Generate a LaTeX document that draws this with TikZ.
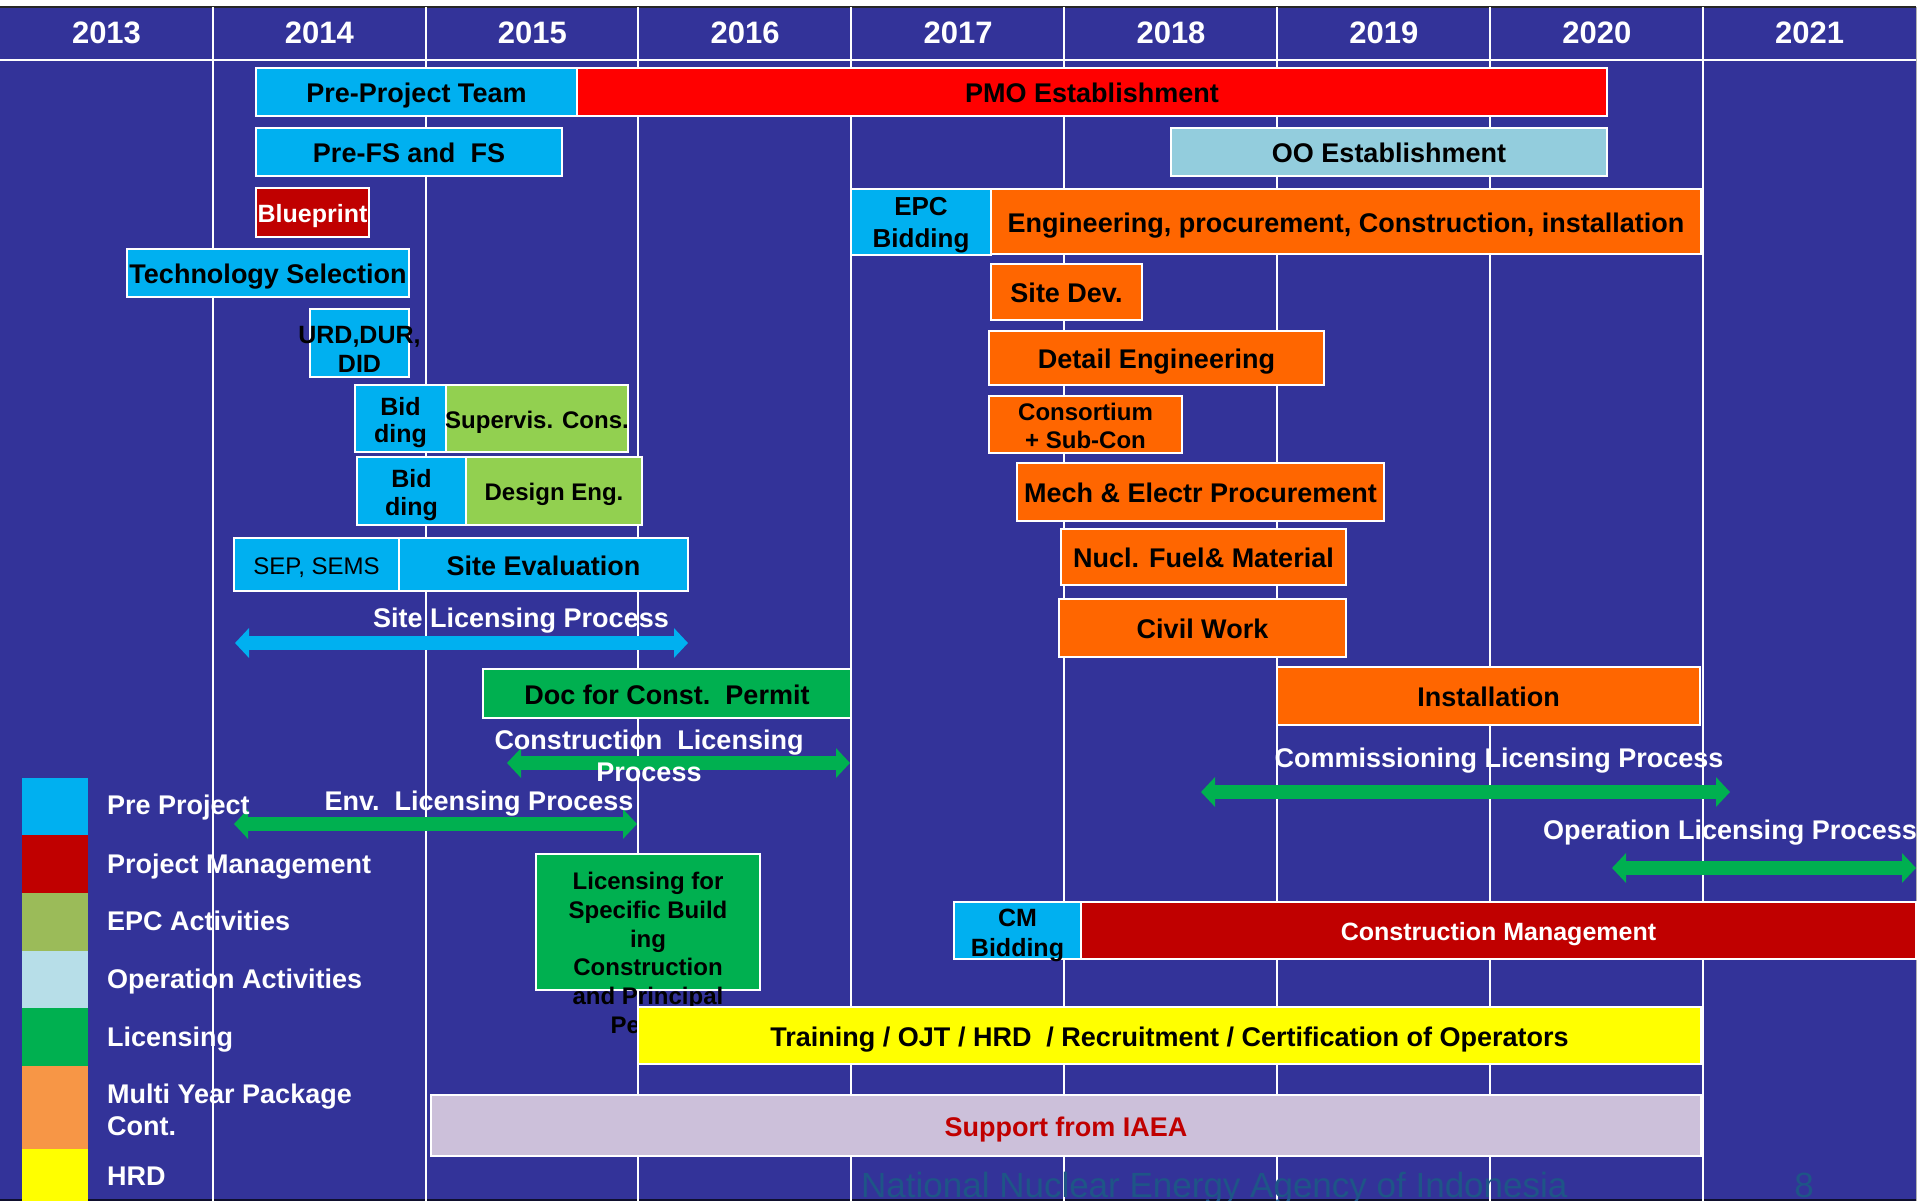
\documentclass[tikz,border=0pt]{standalone}
\usepackage{fontspec}
\setmainfont{Liberation Sans}
\usetikzlibrary{arrows.meta}
\definecolor{bgblue}{RGB}{51,51,153}
\definecolor{pcyan}{RGB}{0,176,240}
\definecolor{pred}{RGB}{255,0,0}
\definecolor{dred}{RGB}{192,0,0}
\definecolor{porange}{RGB}{255,102,0}
\definecolor{lgreen}{RGB}{146,208,80}
\definecolor{pgreen}{RGB}{0,176,80}
\definecolor{oblue}{RGB}{147,205,221}
\definecolor{pyellow}{RGB}{255,255,0}
\definecolor{lav}{RGB}{204,192,218}
\definecolor{epcleg}{RGB}{155,187,89}
\definecolor{opleg}{RGB}{183,222,232}
\definecolor{myleg}{RGB}{247,150,70}
\definecolor{foot}{RGB}{30,85,135}
\newcommand{\fs}[2]{\fontsize{#1}{#2}\selectfont}
% single line, caps centred on the bar
\newcommand{\zt}[1]{\makebox[0pt]{\smash{\raisebox{-0.40em}{#1}}}}
% several lines: #1 = raise of the first baseline
\newcommand{\zs}[2]{\makebox[0pt]{\smash{\raisebox{#1}{\begin{tabular}[t]{@{}c@{}}#2\end{tabular}}}}}
\newcommand{\mybar}[7]{\node[gbar,#6,minimum width={#4pt-#2pt},minimum height={#5pt-#3pt}] (#1) at ({(#2+#4)/2},{(#3+#5)/2}) {#7};}
\tikzset{
  gbar/.style={draw=white, line width=2.5pt, inner sep=0pt, outer sep=0pt, text=black, font=\fs{27}{30}\bfseries},
  yr/.style={text=white, font=\fs{31}{34}\bfseries, inner sep=0pt, anchor=base},
  vline/.style={draw=white, line width=2pt},
  dbl/.style={line width=14pt, {Triangle[width=29pt,length=14pt]}-{Triangle[width=29pt,length=14pt]}},
  proc/.style={text=white, font=\fs{27}{32}\bfseries, inner sep=0pt},
  leg/.style={anchor=base west, text=white, font=\fs{27}{32}\bfseries, inner sep=0pt, align=left},
}
\begin{document}
\begin{tikzpicture}[x=1pt,y=-1pt]
\useasboundingbox (0,0) rectangle (1920,1201);
% background
\fill[white] (0,0) rectangle (1920,1201);
\fill[bgblue] (0,7) rectangle (1916,1201);
\draw[black!85, line width=2pt] (0,7) -- (1916,7);
\draw[gray!60, line width=1pt] (1916.5,7) -- (1916.5,1201);
\draw[black!70!bgblue, line width=2pt] (0,1200) -- (1916,1200);
% grid
\draw[vline, line width=2.5pt] (0,60) -- (1916,60);
\foreach \x in {213,426,638,851,1064,1277,1490,1703} \draw[vline] (\x,7) -- (\x,1201);
% years
\foreach \yy [count=\i from 0] in {2013,2014,2015,2016,2017,2018,2019,2020,2021}
  \node[yr] (y\yy) at ({106.5+212.9*\i},44) {\yy};
% bars
\mybar{ppt}{256}{68}{577}{116}{fill=pcyan}{\zt{Pre-Project Team}}
\mybar{pmo}{577}{68}{1607}{116}{fill=pred}{\zt{PMO Establishment}}
\mybar{prefs}{256}{128}{562}{176}{fill=pcyan}{\zt{Pre-FS and\ \ FS}}
\mybar{oo}{1171}{128}{1607}{176}{fill=oblue}{\zt{OO Establishment}}
\mybar{blue}{256}{188}{369}{237}{fill=dred,text=white,font=\fs{25}{28}\bfseries}{\zt{Blueprint}}
\mybar{epcb}{851}{189}{991}{255}{fill=pcyan,font=\fs{26}{32}\bfseries}{\zs{6.7pt}{EPC\\Bidding}}
\mybar{epc}{991}{189}{1701}{254}{fill=porange}{\zt{Engineering, procurement, Construction, installation}}
\mybar{tech}{127}{249}{409}{297}{fill=pcyan}{\zt{Technology Selection}}
\mybar{sitedev}{991}{264}{1142}{320}{fill=porange}{\zt{Site Dev.}}
\mybar{urd}{310}{309}{409}{377}{fill=pcyan,font=\fs{25}{29}\bfseries}{\zs{0pt}{URD,DUR,\\DID}}
\mybar{det}{989}{331}{1324}{385}{fill=porange}{\zt{Detail Engineering}}
\mybar{bida}{355}{385}{446}{452}{fill=pcyan,font=\fs{25}{27}\bfseries}{\zs{3.5pt}{Bid\\ding}}
\mybar{sup}{446}{385}{628}{452}{fill=lgreen,font=\fs{24}{28}\bfseries}{\zt{Supervis. Cons.}}
\mybar{cons}{989}{396}{1182}{453}{fill=porange,font=\fs{24}{28}\bfseries}{\zs{4pt}{Consortium\\+ Sub-Con}}
\mybar{bidb}{357}{457}{466}{525}{fill=pcyan,font=\fs{25}{28}\bfseries}{\zs{4pt}{Bid\\ding}}
\mybar{des}{466}{457}{642}{525}{fill=lgreen,font=\fs{24}{28}\bfseries}{\zt{Design Eng.}}
\mybar{mech}{1017}{463}{1384}{521}{fill=porange}{\zt{Mech \& Electr Procurement}}
\mybar{sep}{234}{538}{399}{591}{fill=pcyan,font=\fs{24}{28}}{\zt{SEP, SEMS}}
\mybar{siteev}{399}{538}{688}{591}{fill=pcyan}{\zt{Site Evaluation}}
\mybar{nucl}{1061}{529}{1346}{585}{fill=porange}{\zt{Nucl. Fuel\& Material}}
\mybar{civil}{1059}{599}{1346}{657}{fill=porange}{\zt{Civil Work}}
\mybar{doc}{483}{669}{851}{718}{fill=pgreen}{\zt{Doc for Const.\ \ Permit}}
\mybar{inst}{1277}{667}{1700}{725}{fill=porange}{\zt{Installation}}
% arrows
\coordinate (sla) at (235,643); \coordinate (slb) at (688,643);
\draw[dbl,pcyan] (sla) -- (slb);
\coordinate (cla) at (507,763); \coordinate (clb) at (850,763);
\draw[dbl,pgreen] (cla) -- (clb);
\coordinate (ela) at (234,824); \coordinate (elb) at (637,824);
\draw[dbl,pgreen] (ela) -- (elb);
\coordinate (cma) at (1201,792); \coordinate (cmb2) at (1730,792);
\draw[dbl,pgreen] (cma) -- (cmb2);
\coordinate (ola) at (1612,868); \coordinate (olb) at (1916,868);
\draw[dbl,pgreen] (ola) -- (olb);
% process labels
\node[proc, anchor=base] (slt) at (521,627) {Site Licensing Process};
\node[proc, align=center] (clt) at (649,756) {Construction\ \ Licensing\\Process};
\node[proc, anchor=base] (elt) at (479,810) {Env.\ \ Licensing Process};
\node[proc, anchor=base] (cmt) at (1499,767) {Commissioning Licensing Process};
\node[proc, anchor=base] (olt) at (1730,839) {Operation Licensing Process};
% licensing box
\mybar{lic}{536}{854}{760}{990}{fill=pgreen}{}
\node[font=\fs{24}{28.7}\bfseries, align=center, inner sep=0pt] (lict) at (648,953) {Licensing for\\Specific Build\\ing\\Construction\\and Principal\\Permit};
% lower bars
\mybar{cmbid}{954}{902}{1081}{959}{fill=pcyan,font=\fs{25}{30}\bfseries}{\zs{4.5pt}{CM\\Bidding}}
\mybar{cm}{1081}{902}{1916}{959}{fill=dred,text=white,font=\fs{25}{28}\bfseries}{\zt{Construction Management}}
\mybar{train}{638}{1007}{1701}{1064}{fill=pyellow}{\zt{Training / OJT / HRD\ \ / Recruitment / Certification of Operators}}
\mybar{iaea}{431}{1095}{1701}{1156}{fill=lav,text=dred}{\zt{Support from IAEA}}
% legend
\fill[pcyan] (22,778) rectangle (88,835);
\fill[dred] (22,835) rectangle (88,893);
\fill[epcleg] (22,893) rectangle (88,951);
\fill[opleg] (22,951) rectangle (88,1008);
\fill[pgreen] (22,1008) rectangle (88,1066);
\fill[myleg] (22,1066) rectangle (88,1149);
\fill[pyellow] (22,1149) rectangle (88,1201);
\node[leg] (lg1) at (107,814) {Pre Project};
\node[leg] (lg2) at (107,873) {Project Management};
\node[leg] (lg3) at (107,930) {EPC Activities};
\node[leg] (lg4) at (107,988) {Operation Activities};
\node[leg] (lg5) at (107,1046) {Licensing};
\node[leg, anchor=west] (lg6) at (107,1110) {Multi Year Package\\Cont.};
\node[leg] (lg7) at (107,1185) {HRD};
% footer
\node[anchor=base west, text=foot, font=\fs{35}{40}, inner sep=0pt] (ft) at (861,1197) {National Nuclear Energy Agency of Indonesia};
\node[anchor=base, text=foot, font=\fs{35}{40}, inner sep=0pt] (pg) at (1804,1197) {8};
\end{tikzpicture}
\end{document}
